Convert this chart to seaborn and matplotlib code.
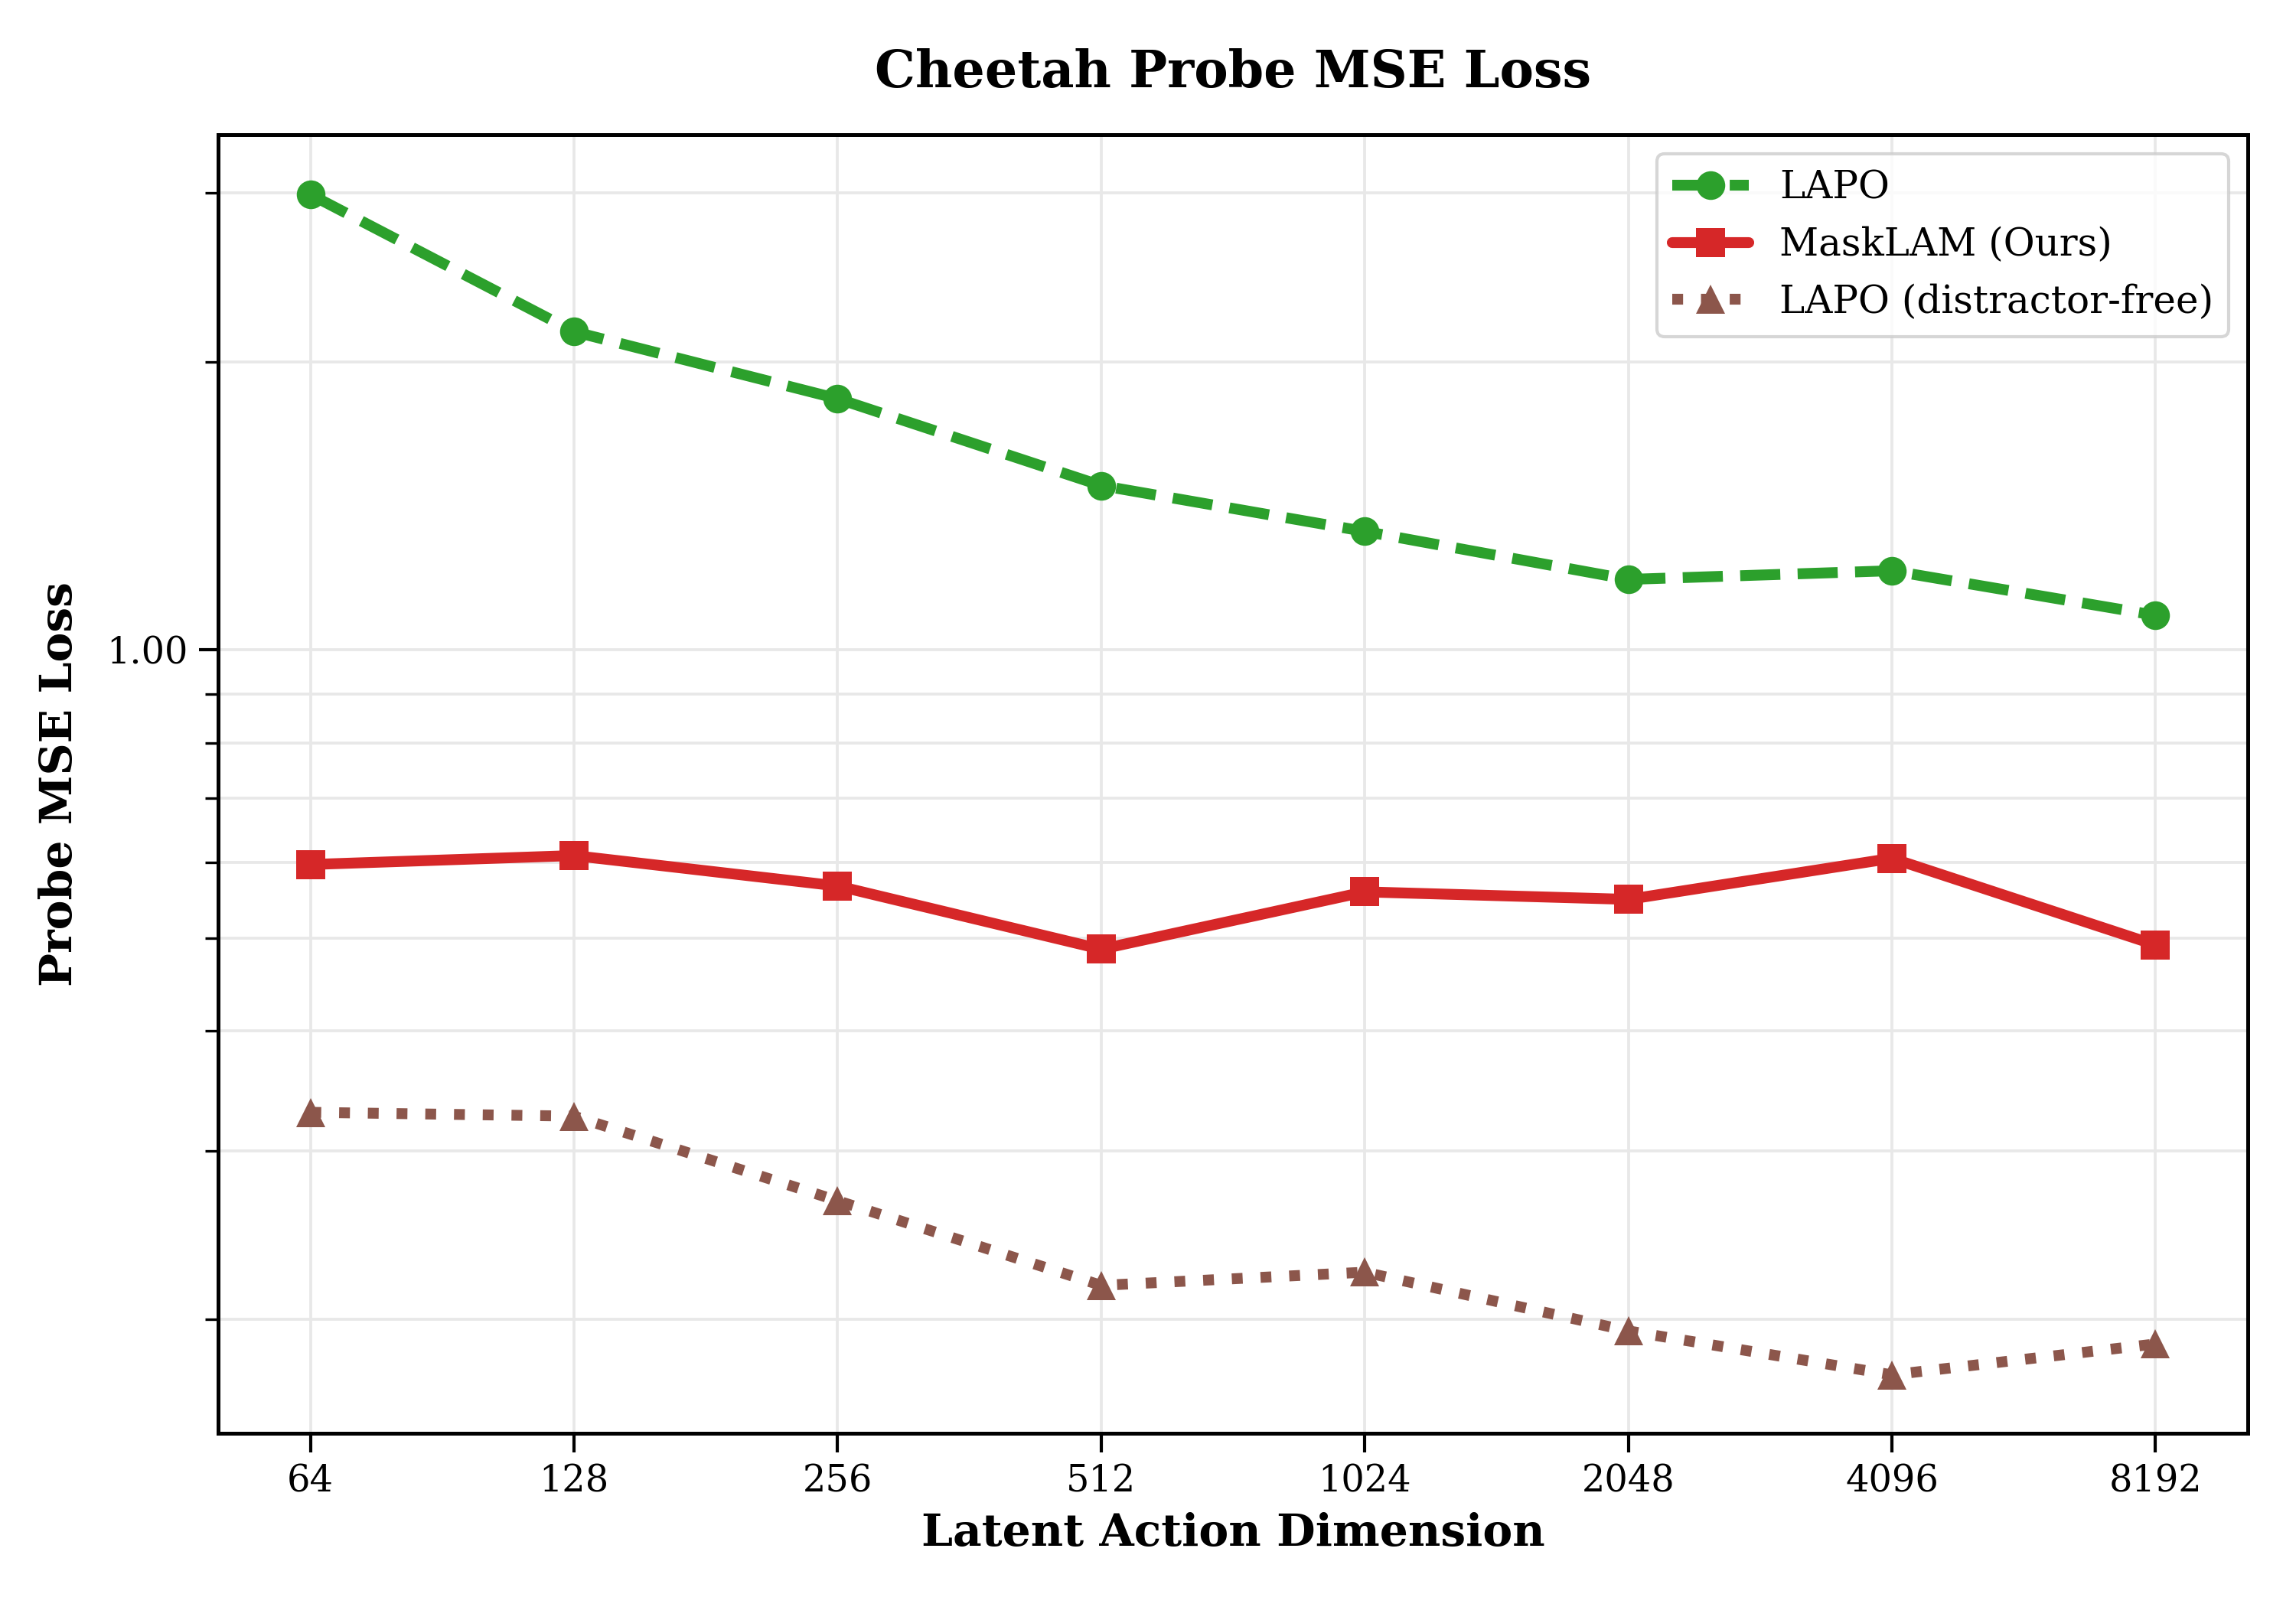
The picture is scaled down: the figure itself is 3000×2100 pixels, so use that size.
import matplotlib
matplotlib.use("Agg")
import matplotlib.pyplot as plt
import matplotlib.ticker as mticker
import seaborn as sns
import pandas as pd

dims = [64, 128, 256, 512, 1024, 2048, 4096, 8192]
lapo = [2.99, 2.15, 1.83, 1.485, 1.33, 1.185, 1.21, 1.087]
masklam = [0.597, 0.610, 0.567, 0.487, 0.559, 0.549, 0.606, 0.492]
lapo_free = [0.329, 0.326, 0.266, 0.217, 0.224, 0.1945, 0.175, 0.1885]

series_names = ["LAPO", "MaskLAM (Ours)", "LAPO (distractor-free)"]
series_vals = [lapo, masklam, lapo_free]
colors = ["#2ca02c", "#d62728", "#8c564b"]
markers = ["o", "s", "^"]
linestyles = ["--", "-", ":"]

sns.set_theme(style="ticks")
plt.rcParams["font.family"] = ["DejaVu Serif"]
plt.rcParams["text.color"] = "black"
plt.rcParams["axes.labelcolor"] = "black"
plt.rcParams["xtick.color"] = "black"
plt.rcParams["ytick.color"] = "black"

fig, ax = plt.subplots(figsize=(10, 7), dpi=300)
fig.subplots_adjust(left=0.095, right=0.979, top=0.916, bottom=0.108)

for name, vals, c, m, ls in zip(series_names, series_vals, colors, markers, linestyles):
    df = pd.DataFrame({"dim": dims, "loss": vals})
    sns.lineplot(data=df, x="dim", y="loss", ax=ax, color=c, marker=m,
                 linestyle=ls, linewidth=3.4, markersize=9, markeredgewidth=0,
                 label=name)

ax.set_xscale("log", base=2)
ax.set_yscale("log")
ax.set_xticks(dims)
ax.set_xticklabels([str(d) for d in dims])
ax.xaxis.set_minor_locator(mticker.NullLocator())
ax.set_ylim(0.152, 3.45)
ax.yaxis.set_major_locator(mticker.LogLocator(base=10))
ax.yaxis.set_major_formatter(mticker.FormatStrFormatter("%.2f"))
ax.yaxis.set_minor_locator(mticker.LogLocator(base=10, subs=[2, 3, 4, 5, 6, 7, 8, 9]))
ax.yaxis.set_minor_formatter(mticker.NullFormatter())

ax.grid(True, which="major", color="#e8e8e8", linewidth=0.9)
ax.grid(True, which="minor", axis="y", color="#e8e8e8", linewidth=0.9)
ax.set_axisbelow(True)

for s in ax.spines.values():
    s.set_visible(True)
    s.set_color("black")
    s.set_linewidth(1.2)

ax.tick_params(axis="both", which="major", labelsize=11.5, length=6, width=1, colors="black")
ax.tick_params(axis="y", which="minor", length=4, width=0.8, colors="black")

ax.set_title("Cheetah Probe MSE Loss", fontsize=16, fontweight="bold", pad=15, color="black")
ax.set_xlabel("Latent Action Dimension", fontsize=14, fontweight="bold", labelpad=4)
ax.set_ylabel("Probe MSE Loss", fontsize=14, fontweight="bold", labelpad=8)

ax.legend(loc="upper right", fontsize=12, frameon=True, framealpha=0.8,
          edgecolor="#cccccc", fancybox=True, handlelength=2.0)

fig.savefig("out.png", dpi=300)
